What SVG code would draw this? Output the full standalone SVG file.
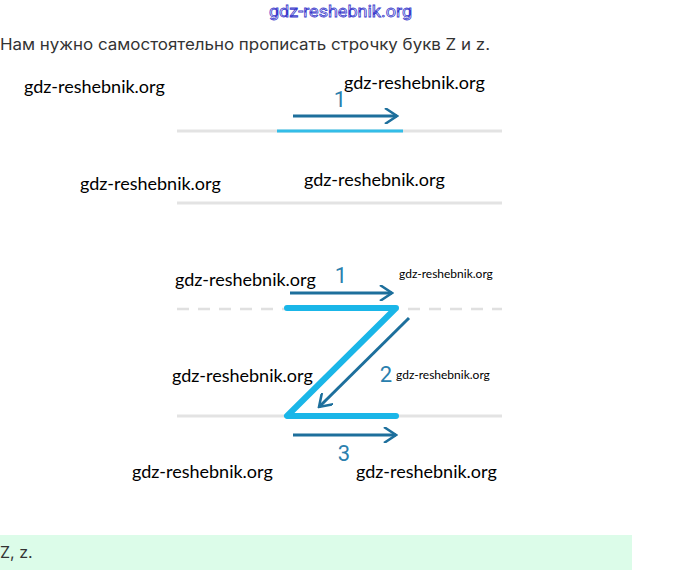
<svg xmlns="http://www.w3.org/2000/svg" width="680" height="570" viewBox="0 0 680 570">
<defs>
<style>
.wm{font-family:Lato,"Open Sans",sans-serif;font-size:18px;fill:#000}
.wms{font-family:Lato,"Open Sans",sans-serif;font-size:12px;fill:#000}
.guide{stroke:#e3e3e3;stroke-width:3;fill:none}
.z{stroke:#1ab6e8;stroke-width:6;fill:none;stroke-linecap:round;stroke-linejoin:round}
.arr{stroke:#1d6f9c;stroke-width:3;fill:none}
.num{font-family:Roboto,"Liberation Sans",sans-serif;font-size:22px;fill:#2a80ae}
.txt{font-family:Inter,Roboto,"Liberation Sans",sans-serif;font-size:16px;fill:#333}
</style>
<marker id="ah2" viewBox="0 0 16 16" refX="14" refY="8" markerWidth="16" markerHeight="16" markerUnits="userSpaceOnUse" orient="auto">
<path d="M2,0 L14,8 L2,16" fill="none" stroke="#1d6f9c" stroke-width="2.5"/>
</marker>
</defs>
<rect width="680" height="570" fill="#fff"/>
<text x="269" y="17" textLength="143" lengthAdjust="spacingAndGlyphs" font-family="Roboto,'Liberation Sans',sans-serif" font-size="17" fill="#fff" stroke="#3c3ccc" stroke-width="0.8">gdz-reshebnik.org</text>
<text class="txt" x="0" y="50" textLength="490" lengthAdjust="spacingAndGlyphs">Нам нужно самостоятельно прописать строчку букв Z и z.</text>

<g id="line1">
<line class="guide" x1="177" y1="131" x2="502" y2="131"/>
<line x1="277" y1="131" x2="403" y2="131" stroke="#33bde8" stroke-width="3"/>
<line class="arr" x1="293" y1="116" x2="397" y2="116" marker-end="url(#ah2)"/>
<text class="num" x="340" y="107" text-anchor="middle">1</text>
</g>
<g id="line2">
<line class="guide" x1="177" y1="203" x2="502" y2="203"/>
</g>

<g id="zletter">
<line x1="177" y1="309" x2="502" y2="309" stroke="#e0e0e0" stroke-width="2.5" stroke-dasharray="12,9"/>
<line class="guide" x1="177" y1="416" x2="502" y2="416"/>
<path class="z" d="M287,308 L396,308 L287,416 L396,416"/>
</g>
<g id="connectors">
<line class="arr" x1="290" y1="293" x2="392" y2="293" marker-end="url(#ah2)"/>
<line class="arr" x1="409" y1="318" x2="319" y2="407" marker-end="url(#ah2)"/>
<line class="arr" x1="293" y1="435" x2="396" y2="435" marker-end="url(#ah2)"/>
<text class="num" x="341" y="283" text-anchor="middle">1</text>
<text class="num" x="386" y="382" text-anchor="middle">2</text>
<text class="num" x="344" y="461" text-anchor="middle">3</text>
</g>

<g id="watermarks">
<text class="wm" x="24" y="93">gdz-reshebnik.org</text>
<text class="wm" x="344" y="89">gdz-reshebnik.org</text>
<text class="wm" x="80" y="190">gdz-reshebnik.org</text>
<text class="wm" x="304" y="186">gdz-reshebnik.org</text>
<text class="wm" x="175" y="286">gdz-reshebnik.org</text>
<text class="wms" x="399" y="278">gdz-reshebnik.org</text>
<text class="wm" x="172" y="382">gdz-reshebnik.org</text>
<text class="wms" x="396" y="379">gdz-reshebnik.org</text>
<text class="wm" x="132" y="478">gdz-reshebnik.org</text>
<text class="wm" x="356" y="478">gdz-reshebnik.org</text>
</g>

<g id="answer">
<rect x="0" y="535" width="632" height="35" fill="#dcfce9"/>
<text class="txt" x="0" y="558" font-size="15">Z, z.</text>
</g>
</svg>
